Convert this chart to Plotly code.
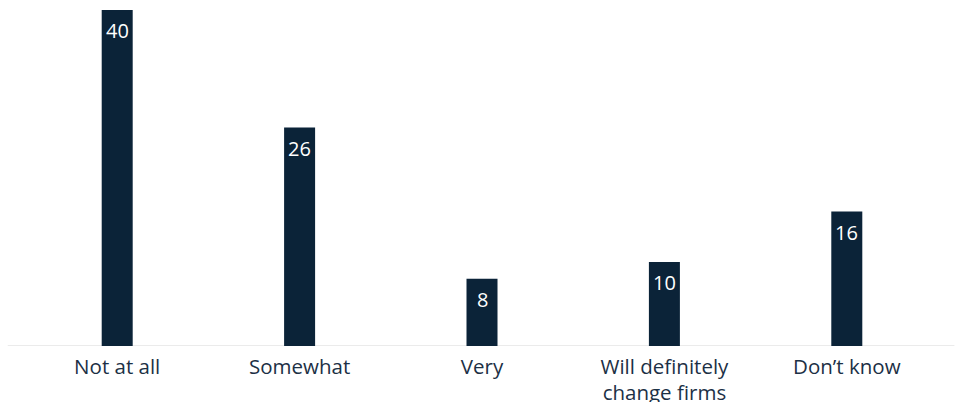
import plotly.graph_objects as go

categories = ["Not at all", "Somewhat", "Very", "Will definitely<br>change firms", "Don\u2019t know"]
values = [40, 26, 8, 10, 16]

BAR_COLOR = "#0b2338"
TEXT_COLOR = "#1c3045"
FONT = "'Open Sans', Lato, sans-serif"

fig = go.Figure(
    go.Bar(
        x=categories,
        y=values,
        marker=dict(color=BAR_COLOR, line=dict(width=0)),
        hoverinfo="skip",
    )
)

# value labels sitting just inside the top of each bar
for cat, val in zip(categories, values):
    fig.add_annotation(
        x=cat, y=val, text=str(val), showarrow=False,
        yanchor="top", yshift=-5,
        font=dict(family=FONT, size=20, color="white"),
    )

# light baseline running across the full width
fig.add_shape(
    type="line", xref="paper", yref="y",
    x0=-0.02, x1=1.018, y0=0, y1=0,
    line=dict(color="#ebebeb", width=2),
    layer="below",
)

fig.update_layout(
    width=966, height=402,
    margin=dict(l=26, r=28, t=10, b=56),
    paper_bgcolor="white", plot_bgcolor="white",
    bargap=0.83,
    showlegend=False,
    font=dict(family=FONT, size=20.5, color=TEXT_COLOR),
    xaxis=dict(
        showgrid=False, zeroline=False, showline=False, ticks="",
        tickfont=dict(family=FONT, size=20.5, color=TEXT_COLOR),
        ticklabelstandoff=6, automargin=False,
        fixedrange=True,
    ),
    yaxis=dict(
        range=[0, 40], showgrid=False, zeroline=False, showline=False,
        showticklabels=False, ticks="", fixedrange=True, automargin=False,
    ),
)

fig.write_html("out.html")
